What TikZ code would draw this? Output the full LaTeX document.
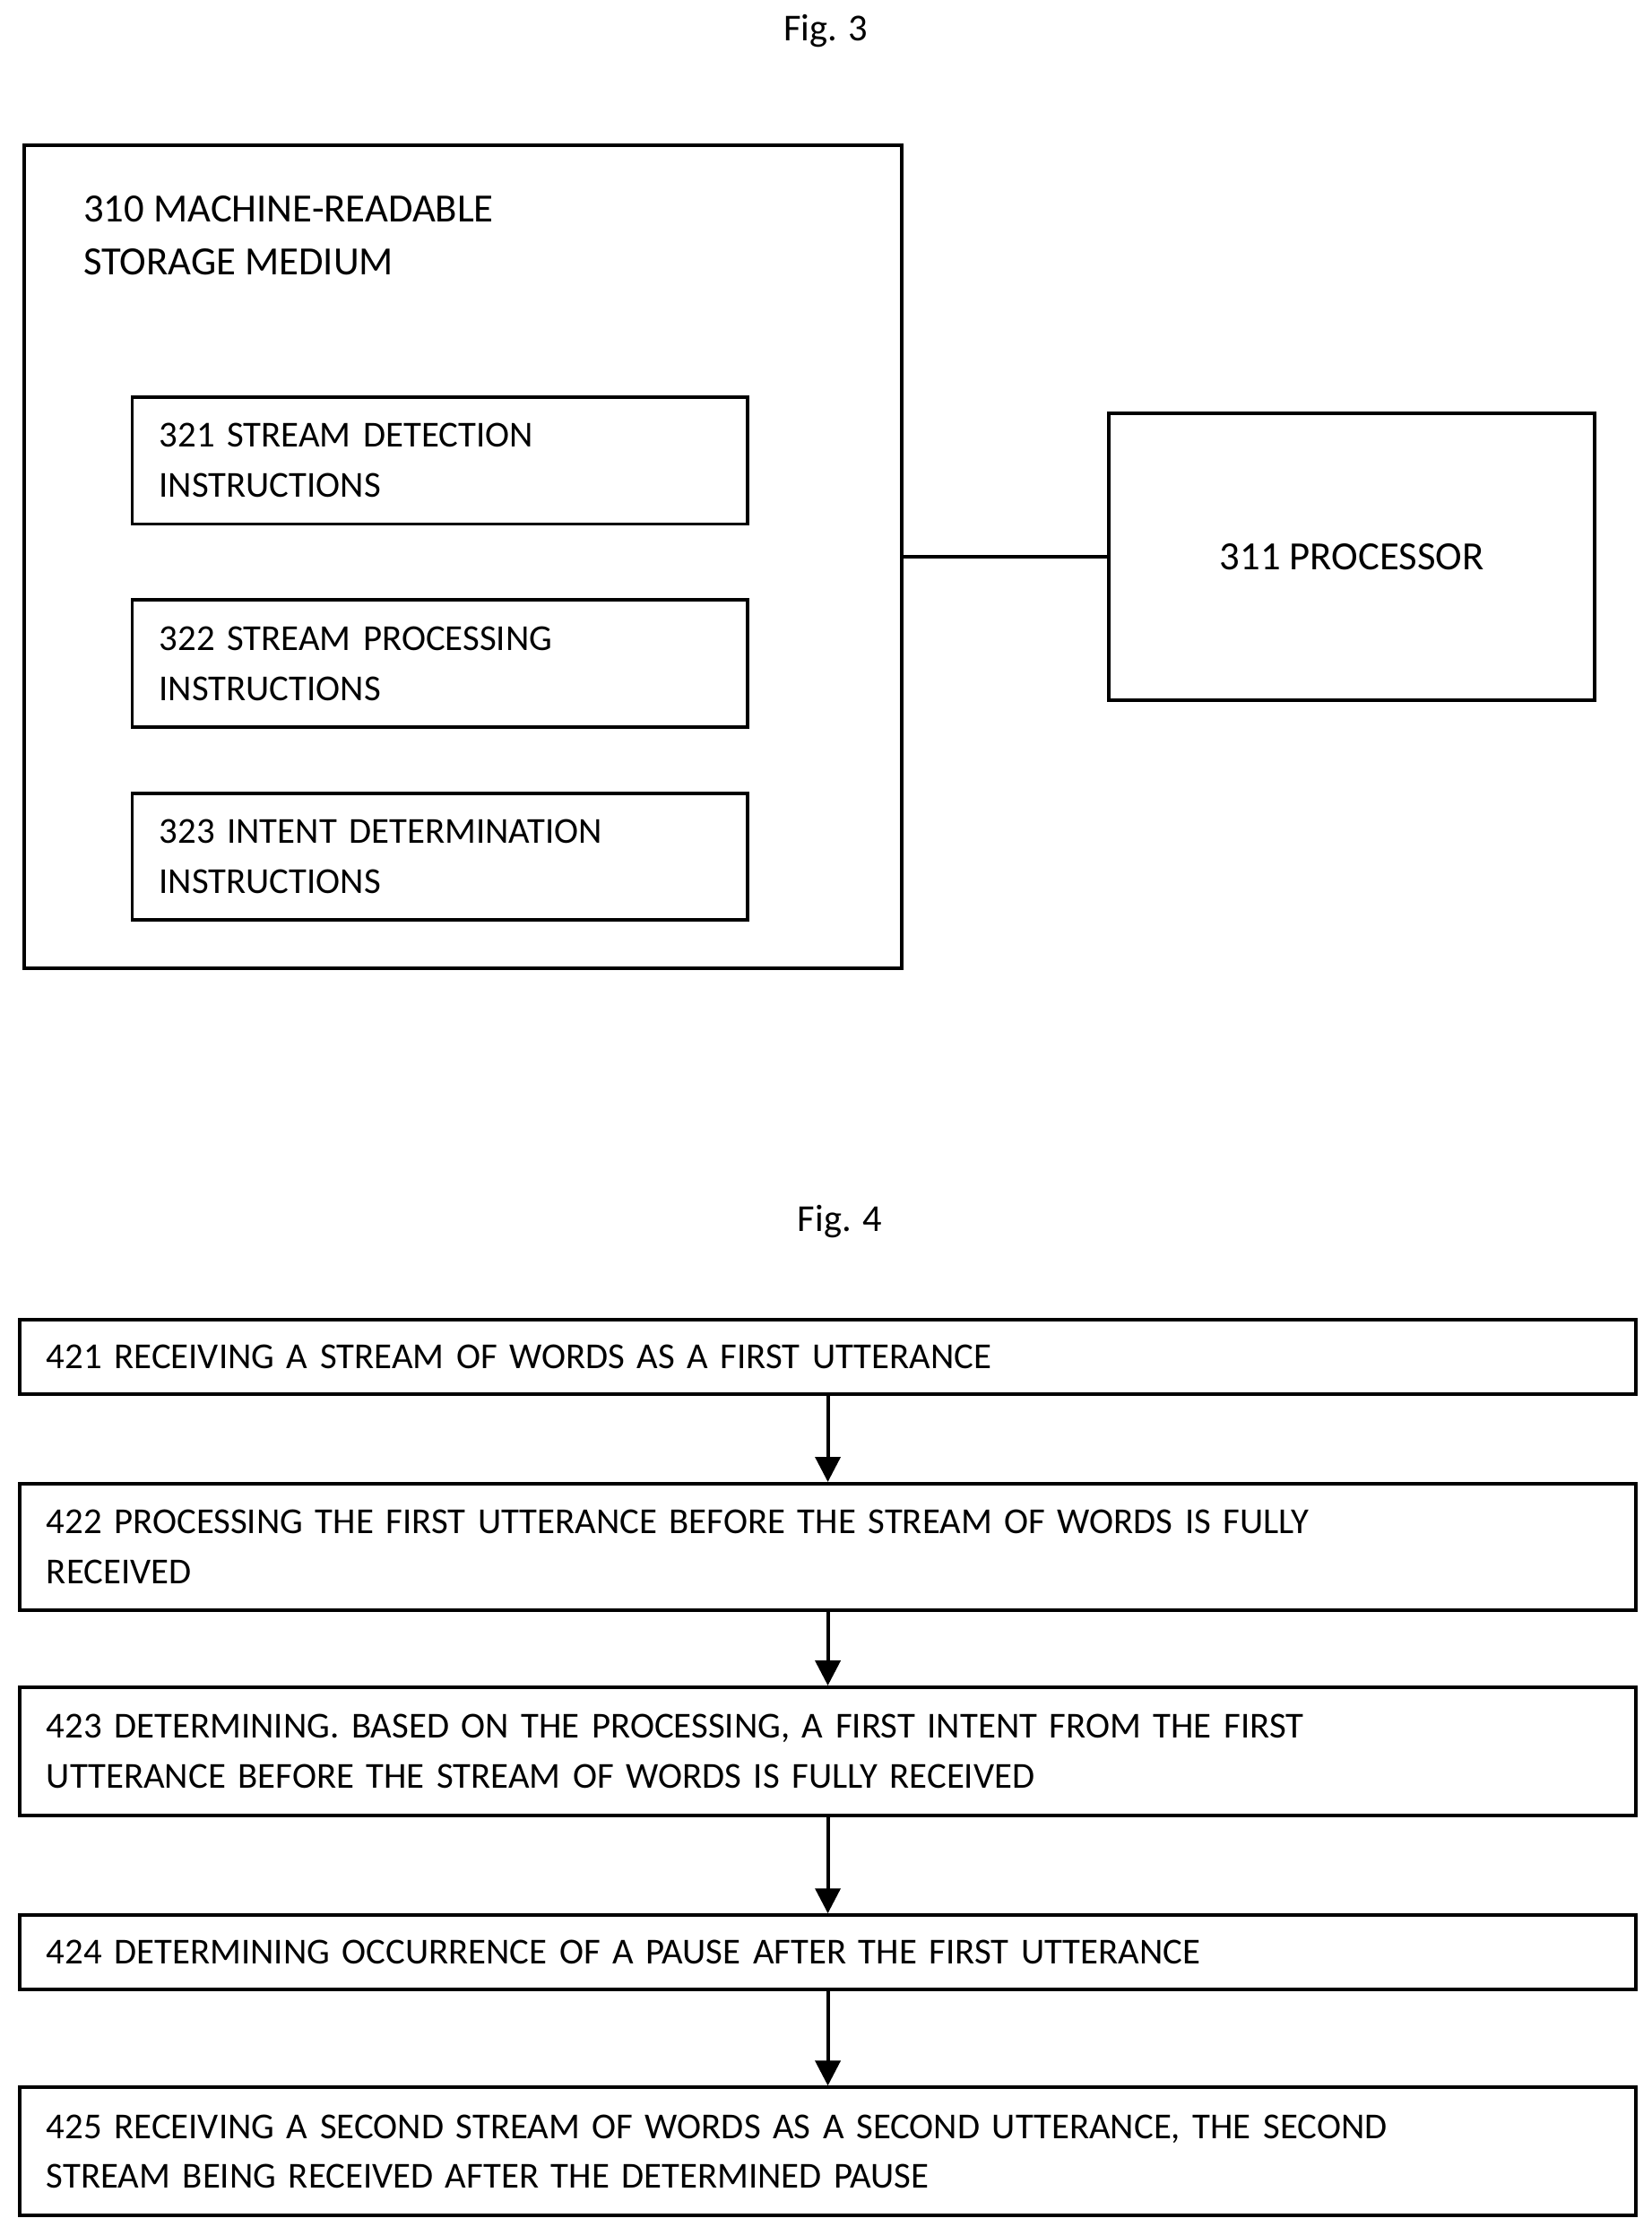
\documentclass[tikz,border=0pt]{standalone}
\usepackage{fontspec}
\setmainfont{Carlito}
\usetikzlibrary{arrows.meta}
\begin{document}
\begin{tikzpicture}[x=0.01cm,y=-0.01cm,
    box/.style={draw,line width=0.7pt,rectangle,inner xsep=0.19cm,inner ysep=0pt},
    instr/.style={box,minimum width=4.32cm,minimum height=0.89cm,text width=3.94cm,align=left,
      font=\fontsize{7.3pt}{10pt}\selectfont},
    stepbox/.style={box,minimum width=11.35cm,text width=10.97cm,align=left,
      font=\fontsize{7.3pt}{10pt}\selectfont},
    flow/.style={-{Triangle[length=5pt,width=5pt]},line width=0.7pt}]
  \useasboundingbox (0,0) rectangle (1160,1564);
  % Fig. 3
  \node(F3) at(580,22){\fontsize{7.6pt}{10pt}\selectfont Fig. 3};
  \node[box,minimum width=6.16cm,minimum height=5.78cm](M310) at(325,391){};
  \node[anchor=north west,inner sep=0pt,align=left,font=\fontsize{8pt}{10.6pt}\selectfont](T310)
    at(58,137){310 MACHINE-READABLE\\STORAGE MEDIUM};
  \node[instr](I321) at(309,323.5){321 STREAM DETECTION\\INSTRUCTIONS};
  \node[instr](I322) at(309,466){322 STREAM PROCESSING\\INSTRUCTIONS};
  \node[instr](I323) at(309,601.5){323 INTENT DETERMINATION\\INSTRUCTIONS};
  \node[box,minimum width=3.41cm,minimum height=2.01cm,font=\fontsize{8pt}{10pt}\selectfont](P311)
    at(949.5,391){311 PROCESSOR};
  \draw[line width=0.7pt](M310.east)--(P311.west);
  % Fig. 4
  \node(F4) at(590,858){\fontsize{7.6pt}{10pt}\selectfont Fig. 4};
  \node[stepbox,minimum height=0.52cm](S421) at(581.5,953){421 RECEIVING A STREAM OF WORDS AS A FIRST UTTERANCE};
  \node[stepbox,minimum height=0.89cm](S422) at(581.5,1086.5){422 PROCESSING THE FIRST UTTERANCE BEFORE THE STREAM OF WORDS IS FULLY\\RECEIVED};
  \node[stepbox,minimum height=0.90cm](S423) at(581.5,1230){423 DETERMINING. BASED ON THE PROCESSING, A FIRST INTENT FROM THE FIRST\\UTTERANCE BEFORE THE STREAM OF WORDS IS FULLY RECEIVED};
  \node[stepbox,minimum height=0.52cm](S424) at(581.5,1371){424 DETERMINING OCCURRENCE OF A PAUSE AFTER THE FIRST UTTERANCE};
  \node[stepbox,minimum height=0.90cm](S425) at(581.5,1511){425 RECEIVING A SECOND STREAM OF WORDS AS A SECOND UTTERANCE, THE SECOND\\STREAM BEING RECEIVED AFTER THE DETERMINED PAUSE};
  \foreach \a/\b in {S421/S422,S422/S423,S423/S424,S424/S425}{
    \draw[flow](\a)--(\b);
  }
\end{tikzpicture}
\end{document}
